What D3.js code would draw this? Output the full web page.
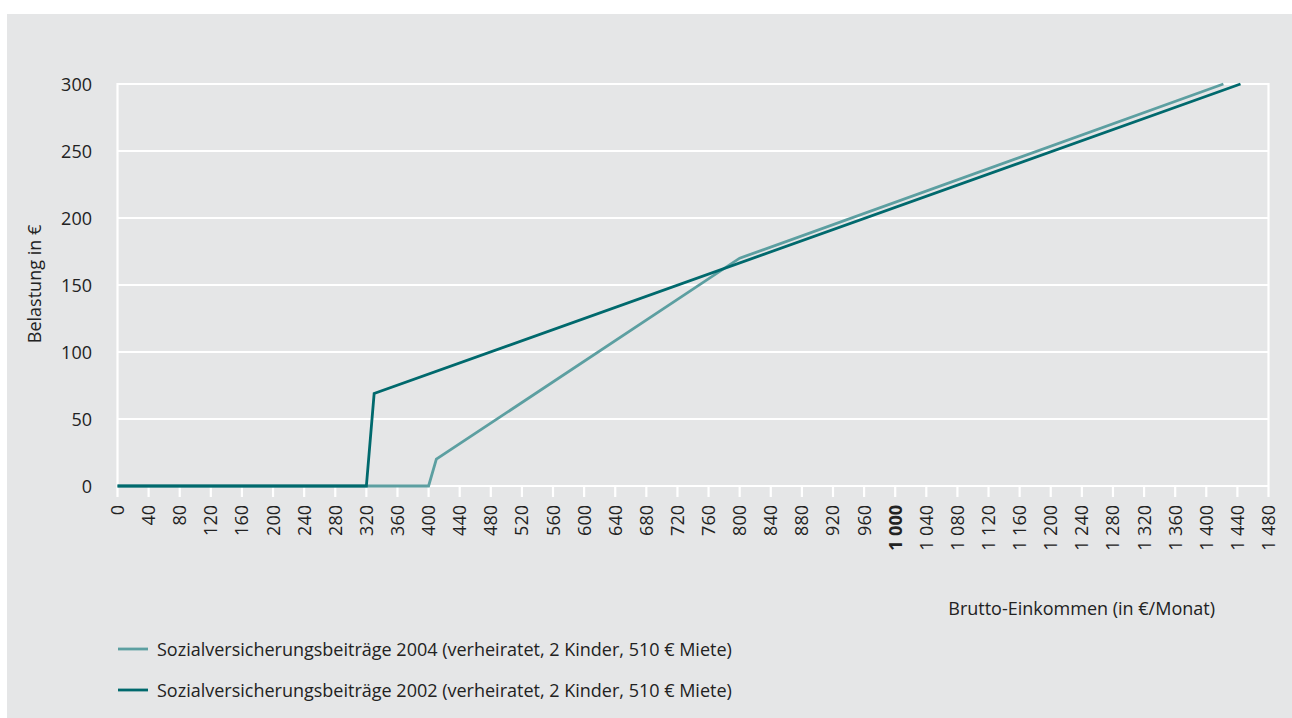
<!DOCTYPE html>
<html>
<head>
<meta charset="utf-8">
<script src="https://cdn.jsdelivr.net/npm/d3@7"></script>
<style>
  html, body { margin: 0; padding: 0; background: #ffffff; }
  svg { display: block; }
  text { font-family: "Open Sans", "Noto Sans", sans-serif; fill: #222; }
</style>
</head>
<body>
<svg id="chart" width="1292" height="718"></svg>
<script>
// Income thresholds and contributions (EUR per month)
const income2004 = [0, 400, 410, 800, 1422];
const charge2004 = [0, 0, 20, 170, 300];
const income2002 = [0, 320, 330, 1444];
const charge2002 = [0, 0, 69, 300];

const xTicks = d3.range(0, 1481, 40);
const yTicks = [0, 50, 100, 150, 200, 250, 300];

const seriesNames = [
  "Sozialversicherungsbeiträge 2004 (verheiratet, 2 Kinder, 510 € Miete)",
  "Sozialversicherungsbeiträge 2002 (verheiratet, 2 Kinder, 510 € Miete)"
];
const seriesColors = ["#5c9fa1", "#00696d"];

const svg = d3.select("#chart");

// background panel
svg.append("rect")
  .attr("x", 7).attr("y", 14)
  .attr("width", 1292 - 7).attr("height", 718 - 14)
  .attr("fill", "#e5e6e7");

const x = d3.scaleLinear().domain([0, 1480]).range([117.5, 1268.5]);
const y = d3.scaleLinear().domain([0, 300]).range([486, 84]);

// horizontal grid lines
svg.append("g")
  .selectAll("line")
  .data(yTicks)
  .join("line")
  .attr("x1", x(0)).attr("x2", x(1480))
  .attr("y1", d => y(d)).attr("y2", d => y(d))
  .attr("stroke", "#ffffff").attr("stroke-width", 2.2);

// left and right frame lines
svg.append("g")
  .selectAll("line")
  .data([0, 1480])
  .join("line")
  .attr("x1", d => x(d)).attr("x2", d => x(d))
  .attr("y1", y(300) - 1).attr("y2", y(0))
  .attr("stroke", "#ffffff").attr("stroke-width", 2.2);

// x axis ticks
svg.append("g")
  .selectAll("line")
  .data(xTicks)
  .join("line")
  .attr("x1", d => x(d)).attr("x2", d => x(d))
  .attr("y1", y(0)).attr("y2", y(0) + 11)
  .attr("stroke", "#ffffff").attr("stroke-width", 2.2);

const fmt = d => {
  const s = String(d);
  return s.length > 3 ? s.slice(0, s.length - 3) + " " + s.slice(-3) : s;
};

// x axis labels, rotated
svg.append("g")
  .selectAll("text")
  .data(xTicks)
  .join("text")
  .attr("transform", d => `translate(${x(d) + 6.5},505) rotate(-90)`)
  .attr("text-anchor", "end")
  .attr("font-size", 18)
  .attr("font-weight", d => d === 1000 ? "bold" : "normal")
  .text(fmt);

// y axis labels
svg.append("g")
  .selectAll("text")
  .data(yTicks)
  .join("text")
  .attr("x", 92)
  .attr("y", d => y(d) + 6.5)
  .attr("text-anchor", "end")
  .attr("font-size", 18)
  .text(d => d);

// axis titles
svg.append("text")
  .attr("transform", "translate(41,284) rotate(-90)")
  .attr("text-anchor", "middle")
  .attr("font-size", 18)
  .text("Belastung in €");

svg.append("text")
  .attr("x", 1215).attr("y", 615)
  .attr("text-anchor", "end")
  .attr("font-size", 18)
  .text("Brutto-Einkommen (in €/Monat)");

// series lines
const line = d3.line().x(d => x(d[0])).y(d => y(d[1]));
const pts2004 = income2004.map((v, i) => [v, charge2004[i]]);
const pts2002 = income2002.map((v, i) => [v, charge2002[i]]);

svg.append("path")
  .attr("d", line(pts2004))
  .attr("fill", "none")
  .attr("stroke", seriesColors[0])
  .attr("stroke-width", 2.8);

svg.append("path")
  .attr("d", line(pts2002))
  .attr("fill", "none")
  .attr("stroke", seriesColors[1])
  .attr("stroke-width", 2.8);

// legend
const legend = svg.append("g")
  .selectAll("g")
  .data(seriesNames)
  .join("g")
  .attr("transform", (d, i) => `translate(118,${649 + i * 41})`);

legend.append("line")
  .attr("x1", 0).attr("x2", 30)
  .attr("y1", 0).attr("y2", 0)
  .attr("stroke", (d, i) => seriesColors[i])
  .attr("stroke-width", 2.8);

legend.append("text")
  .attr("x", 39).attr("y", 6.5)
  .attr("font-size", 18)
  .text(d => d);
</script>
</body>
</html>
